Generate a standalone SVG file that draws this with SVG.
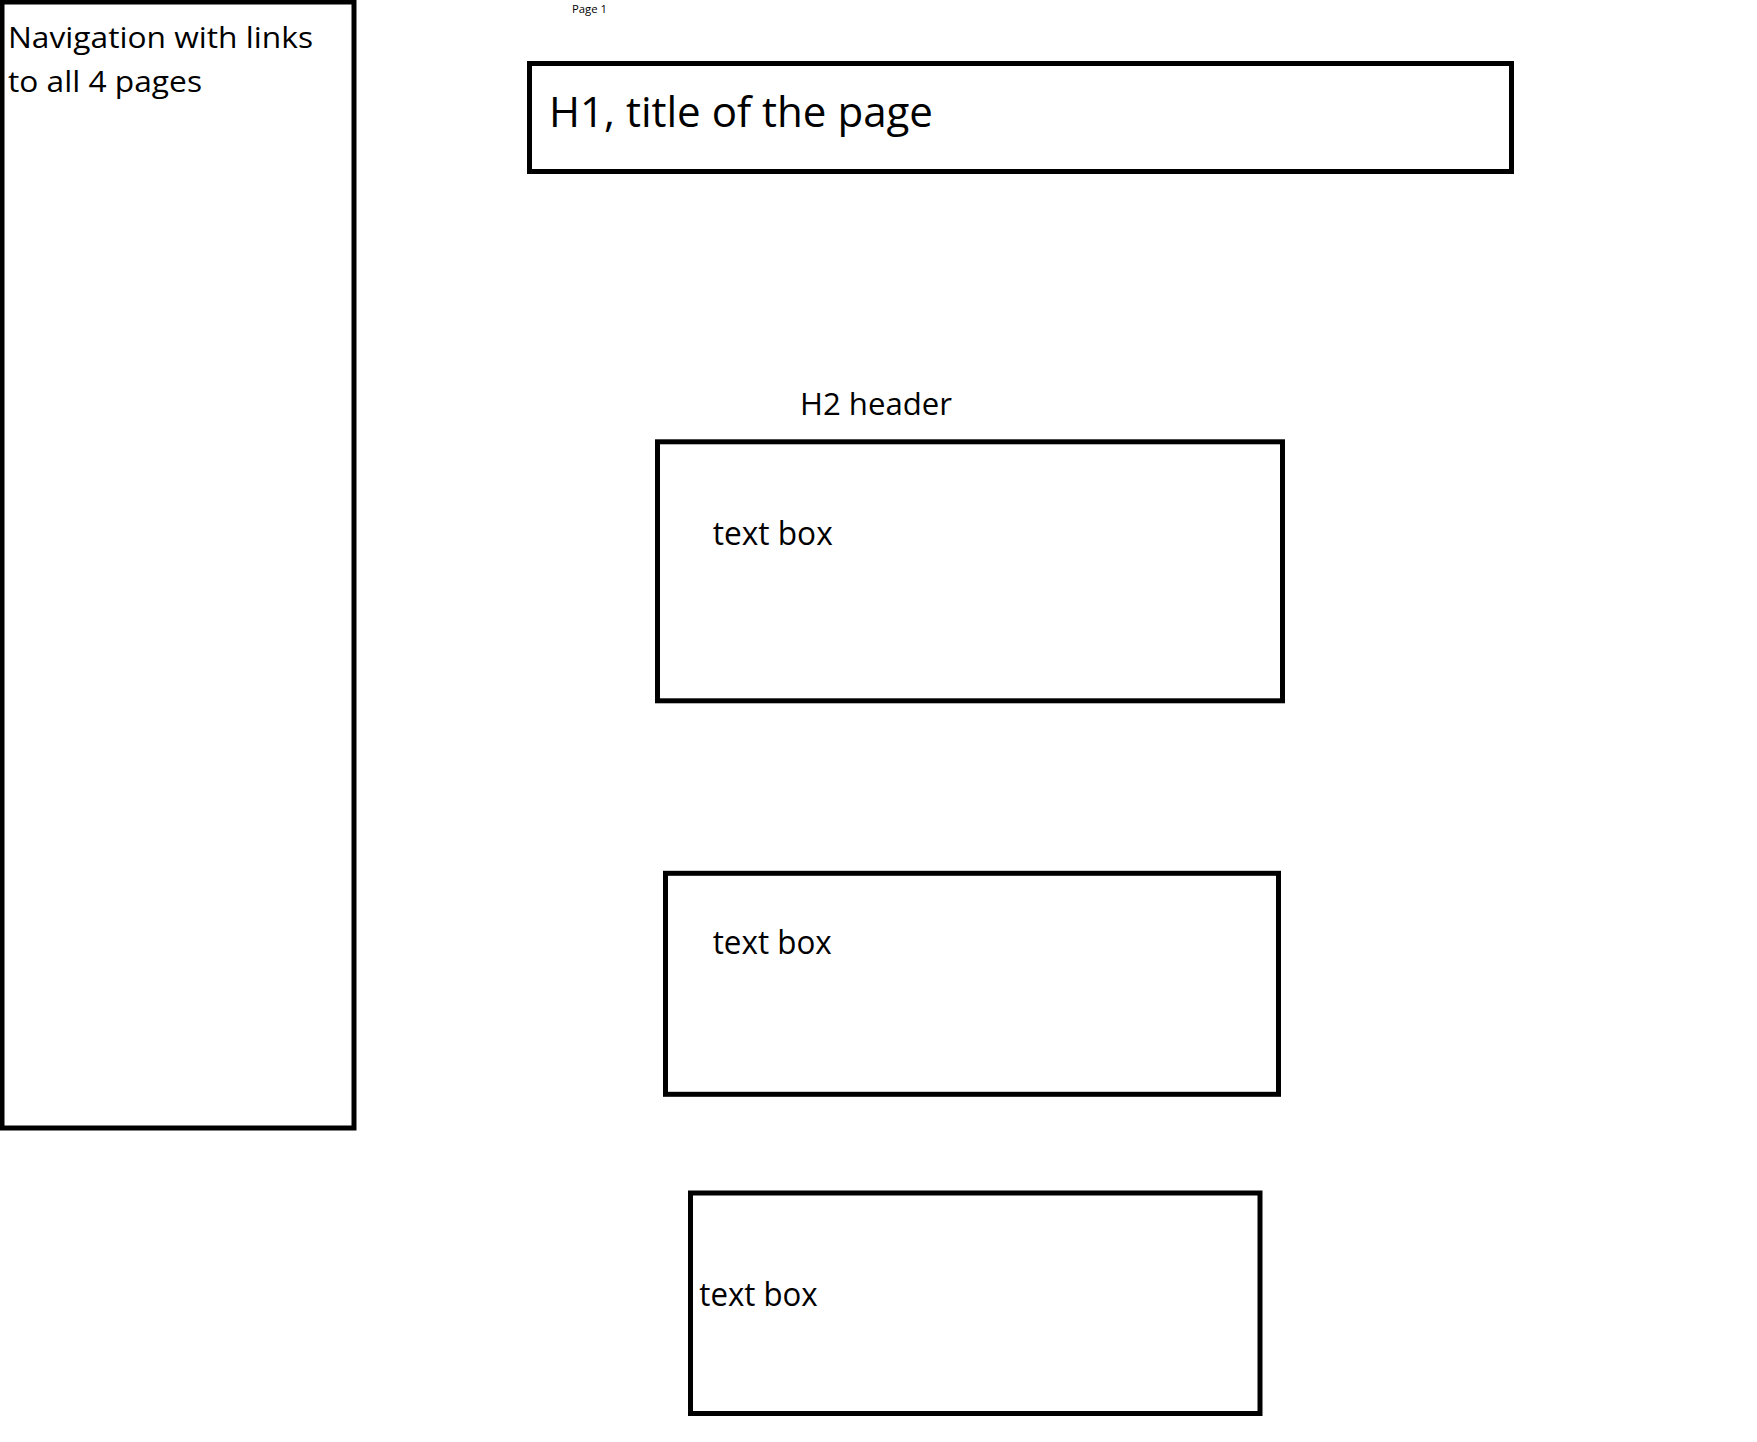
<svg xmlns="http://www.w3.org/2000/svg" width="1757" height="1442" viewBox="0 0 1757 1442">
  <style>
    .box { fill: #ffffff; stroke: #000000; stroke-width: 5; }
    .label { font-family: "Open Sans", "Liberation Sans", Arial, sans-serif; fill: #000000; }
  </style>
  <rect x="0" y="0" width="1757" height="1442" fill="#ffffff"/>

  <text class="label" x="572" y="12.7" font-size="10.5" textLength="35" lengthAdjust="spacingAndGlyphs">Page 1</text>

  <g id="nav">
    <rect class="box" x="2" y="2" width="352" height="1126"/>
    <text class="label" x="8" y="48" font-size="30" textLength="305" lengthAdjust="spacingAndGlyphs">Navigation with links</text>
    <text class="label" x="8" y="91.7" font-size="30" textLength="194" lengthAdjust="spacingAndGlyphs">to all 4 pages</text>
  </g>

  <g id="h1-title">
    <rect class="box" x="529.5" y="63.5" width="982" height="108"/>
    <text class="label" x="549" y="126.7" font-size="42" textLength="384" lengthAdjust="spacingAndGlyphs">H1, title of the page</text>
  </g>

  <g id="h2-header">
    <text class="label" x="800" y="415" font-size="31" textLength="152" lengthAdjust="spacingAndGlyphs">H2 header</text>
  </g>

  <g id="text-box-1">
    <rect class="box" x="657.5" y="441.8" width="625" height="259"/>
    <text class="label" x="712.7" y="545" font-size="32" textLength="120" lengthAdjust="spacingAndGlyphs">text box</text>
  </g>

  <g id="text-box-2">
    <rect class="box" x="665.5" y="873.3" width="613" height="221"/>
    <text class="label" x="712.7" y="954" font-size="32" textLength="119" lengthAdjust="spacingAndGlyphs">text box</text>
  </g>

  <g id="text-box-3">
    <rect class="box" x="690.5" y="1193" width="569.5" height="220.5"/>
    <text class="label" x="699.3" y="1306" font-size="32" textLength="118.4" lengthAdjust="spacingAndGlyphs">text box</text>
  </g>

  <g id="connectors"/>
</svg>
